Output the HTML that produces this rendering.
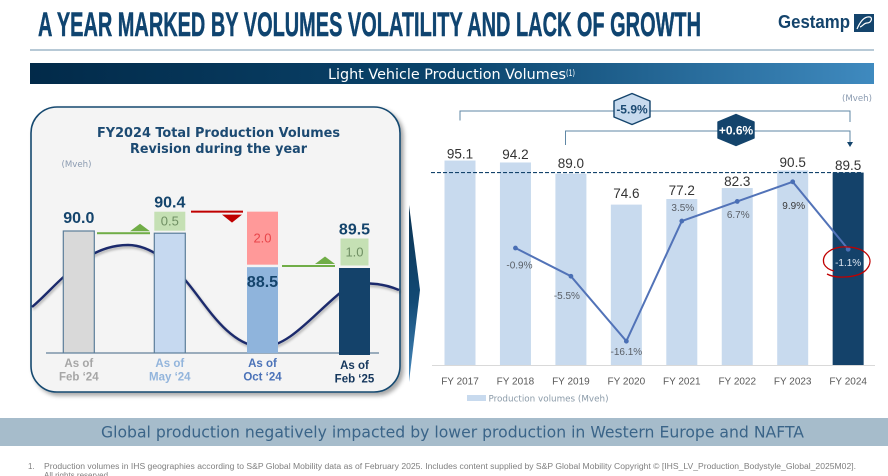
<!DOCTYPE html>
<html lang="en">
<head>
<meta charset="utf-8">
<title>A year marked by volumes volatility and lack of growth</title>
<style>
html,body{margin:0;padding:0;background:#fff;width:888px;height:476px;overflow:hidden}
svg{display:block;font-family:"Liberation Sans",sans-serif}
.wide{font-family:"DejaVu Sans","Liberation Sans",sans-serif}
</style>
</head>
<body>
<svg id="slide" xmlns="http://www.w3.org/2000/svg" width="888" height="476" viewBox="0 0 888 476">
  <defs>
    <linearGradient id="bannerGrad" x1="0" x2="1" y1="0" y2="0">
      <stop offset="0" stop-color="#022a49"/><stop offset="0.5" stop-color="#0a446c"/><stop offset="1" stop-color="#3f8abf"/>
    </linearGradient>
    <linearGradient id="arrowGrad" x1="0" x2="0" y1="0" y2="1">
      <stop offset="0" stop-color="#0b3352"/><stop offset="0.55" stop-color="#124a75"/><stop offset="1" stop-color="#4a8cc0"/>
    </linearGradient>
    <filter id="panelShadow" x="-5%" y="-5%" width="112%" height="112%">
      <feDropShadow dx="3" dy="3" stdDeviation="2" flood-color="#000" flood-opacity="0.35"/>
    </filter>
    <filter id="waveShadow" x="-5%" y="-10%" width="110%" height="125%">
      <feDropShadow dx="1" dy="2" stdDeviation="1.2" flood-color="#000" flood-opacity="0.3"/>
    </filter>
  </defs>

  <text x="38" y="36" font-size="34.5" font-weight="700" fill="#0f4470" stroke="#0f4470" stroke-width="0.5" textLength="663" lengthAdjust="spacingAndGlyphs">A YEAR MARKED BY VOLUMES VOLATILITY AND LACK OF GROWTH</text>
  <g>
    <text x="778" y="28" font-size="18" font-weight="700" fill="#14446c" textLength="72" lengthAdjust="spacingAndGlyphs">Gestamp</text>
    <rect x="854" y="14" width="20" height="18" fill="#14446c"/>
    <path d="M857 29 C860 22 864 16 870 17 C873 18 871 23 867 23 C864 23 863 26 860 27" fill="none" stroke="#fff" stroke-width="1.2"/>
  </g>
  <rect x="30" y="49.5" width="844" height="1" fill="#6f93ad"/>

  <rect x="30" y="63" width="844" height="21" fill="url(#bannerGrad)"/>
  <text class="wide" x="328" y="79" font-size="14" fill="#fff" textLength="238" lengthAdjust="spacingAndGlyphs">Light Vehicle Production Volumes</text>
  <text class="wide" x="566" y="76" font-size="8.5" fill="#fff" textLength="9" lengthAdjust="spacingAndGlyphs">(1)</text>

  <!-- Left panel -->
  <rect x="31" y="107" width="369" height="285" rx="26" ry="26" fill="#f4f4f4" stroke="#14486f" stroke-width="1.6" filter="url(#panelShadow)"/>
  <text class="wide" x="97" y="137" font-size="13.5" font-weight="700" fill="#1c4a72" textLength="243" lengthAdjust="spacingAndGlyphs">FY2024 Total Production Volumes</text>
  <text class="wide" x="130" y="153" font-size="13.5" font-weight="700" fill="#1c4a72" textLength="177" lengthAdjust="spacingAndGlyphs">Revision during the year</text>
  <text class="wide" x="61.5" y="167" font-size="8.5" fill="#8a9ab0" textLength="30" lengthAdjust="spacingAndGlyphs">(Mveh)</text>
  <path d="M32 307 C45 296 55 284 68 273 C85 256 105 245 128 245 C150 245 170 262 186 281 C205 303 228 346 262 347 C290 347 315 312 345 289 C358 281 380 282 399 290" fill="none" stroke="#1a2a6c" stroke-width="2.4" filter="url(#waveShadow)"/>
  <g id="revisionChart"></g>

  <polygon points="409,205 420,290 409,382" fill="url(#arrowGrad)"/>

  <!-- Right chart annotations -->
  <text class="wide" x="842" y="101" font-size="8.5" fill="#8a9ab0" textLength="30" lengthAdjust="spacingAndGlyphs">(Mveh)</text>
  <path d="M460 120.5 V111 H850 V122" fill="none" stroke="#5f87a5" stroke-width="1"/>
  <path d="M565.5 145 V131 H850 V142" fill="none" stroke="#5f87a5" stroke-width="1"/>
  <polygon points="847,142 853,142 850,147" fill="#14446c"/>
  <polygon points="614,101 632,93.5 650,101 650,117 632,124.5 614,117" fill="#c7daee" stroke="#14446c" stroke-width="1.4" stroke-linejoin="round"/>
  <text x="632" y="113.5" font-size="12" font-weight="700" fill="#1c4a72" text-anchor="middle">-5.9%</text>
  <polygon points="718,122 736,114.5 754,122 754,138 736,145.5 718,138" fill="#14446c" stroke="#14446c" stroke-width="1.4" stroke-linejoin="round"/>
  <text x="736" y="134.5" font-size="12" font-weight="700" fill="#fff" text-anchor="middle">+0.6%</text>

  <g id="volumesChart"></g>

  <path d="M827 274 C836 279 858 278 866 270 C876 259 866 248 848 247 C832 246 821 254 824 264 C826 268 830 270 834 271" fill="none" stroke="#c00000" stroke-width="1.3"/>

  <rect x="467" y="395" width="19" height="6" fill="#c8daee"/>
  <text class="wide" x="488.5" y="401.5" font-size="9" fill="#8a9aa8" textLength="120" lengthAdjust="spacingAndGlyphs">Production volumes (Mveh)</text>

  <!-- Footer -->
  <rect x="0" y="418" width="888" height="28" fill="#a6bccb"/>
  <text class="wide" x="101" y="437.5" font-size="16" fill="#3a6488" textLength="703" lengthAdjust="spacingAndGlyphs">Global production negatively impacted by lower production in Western Europe and NAFTA</text>
  <text x="28" y="469" font-size="8" fill="#7f7f7f">1.</text>
  <text x="44" y="469" font-size="8" fill="#7f7f7f" textLength="812" lengthAdjust="spacingAndGlyphs">Production volumes in IHS geographies according to S&amp;P Global Mobility data as of February 2025. Includes content supplied by S&amp;P Global Mobility Copyright © [IHS_LV_Production_Bodystyle_Global_2025M02].</text>
  <text x="44" y="478" font-size="8" fill="#7f7f7f">All rights reserved.</text>
</svg>

<script>
// ---- Volumes chart data ----
const years = ['FY 2017','FY 2018','FY 2019','FY 2020','FY 2021','FY 2022','FY 2023','FY 2024'];
const volumes = [95.1, 94.2, 89.0, 74.6, 77.2, 82.3, 90.5, 89.5];
const growth = [null, -0.9, -5.5, -16.1, 3.5, 6.7, 9.9, -1.1];
const growthLabels = ['', '-0.9%', '-5.5%', '-16.1%', '3.5%', '6.7%', '9.9%', '-1.1%'];
const referenceVolume = 89.5;

// ---- Revision chart data ----
const revisionDates = [['As of','Feb ‘24'],['As of','May ‘24'],['As of','Oct ‘24'],['As of','Feb ‘25']];
const revisionBase = [90.0, 89.9, 88.5, 88.5];
const revisionDelta = [0, 0.5, 2.0, 1.0];
const revisionTotals = [90.0, 90.4, null, 89.5];

const NS = 'http://www.w3.org/2000/svg';
function make(parent, tag, attrs, text) {
  const n = document.createElementNS(NS, tag);
  for (const k in attrs) n.setAttribute(k, attrs[k]);
  if (text !== undefined) n.textContent = text;
  parent.appendChild(n);
  return n;
}

// ---- Volumes chart ----
const vg = document.getElementById('volumesChart');
const baseY = 365;
const xBand = i => 460 + i * 55.45;
const yVol = v => baseY - v * 2.15;
const yGrowth = v => 242.5 - v * 6.13;
const barW = 31;
// layout nudges of the labels relative to their marks
const valueNudgeY = [2, 3.5, 5.5, 6.6, 4, 2, 3.5, 2.6];
const growthNudgeX = [0, 4, -4, 0, 1, 1, 1, 0];
const growthNudgeY = [0, 20.5, 23, 14, -10, 16.5, 27, 17];

years.forEach((y, i) => {
  const el = make(vg, 'rect', {x: xBand(i) - barW / 2, y: yVol(volumes[i]), width: barW, height: baseY - yVol(volumes[i]), fill: i === 7 ? '#14426a' : '#c8daee'});
  
  
});

const axis = make(vg, 'rect', {x: 432, y: 365, width: 443, height: 1, fill: '#d9d9d9'});



const refLine = make(vg, 'line', {x1: 431, x2: 862, y1: yVol(referenceVolume), y2: yVol(referenceVolume), stroke: '#14446c', 'stroke-width': 1.2, 'stroke-dasharray': '4 2'});



years.forEach((y, i) => {
  const el = make(vg, 'text', {x: xBand(i), y: yVol(volumes[i]) - valueNudgeY[i], 'font-size': 13.5, fill: '#333', 'text-anchor': 'middle'}, volumes[i].toFixed(1));
  
  
  const t = make(vg, 'text', {x: xBand(i), y: 384.5, 'font-size': 10, fill: '#595959', 'text-anchor': 'middle'}, y);
  
  
});

const pts = growth.map((g, i) => g === null ? null : [xBand(i), yGrowth(g)]).filter(Boolean);
const growthLine = make(vg, 'polyline', {points: pts.map(p => p.join(',')).join(' '), fill: 'none', stroke: '#5273b8', 'stroke-width': 2});



growth.forEach((g, i) => {
  if (g === null) return;
  const dot = make(vg, 'circle', {cx: xBand(i), cy: yGrowth(g), r: 2.4, fill: '#4a6fb5'});
  
  
  const lab = make(vg, 'text', {x: xBand(i) + growthNudgeX[i], y: yGrowth(g) + growthNudgeY[i], 'font-size': 10, fill: i === 7 ? '#dde7f2' : (i === 6 ? '#3a3a3a' : '#5a5f66'), 'text-anchor': 'middle'}, growthLabels[i]);
  
  
});

// ---- Revision chart (pictorial: each column has its own height factor) ----
const rg = document.getElementById('revisionChart');
const rBase = 353;
const rX = [78.8, 169.8, 262.5, 354.5];
const rFloor = 80;
const baseFactor = [12.2, 12.1, 10.1, 10];
const deltaFactor = [0, 38, 26.5, 27];
const deltaWidth = [0, 31, 31, 28];
const baseFill = ['#d9d9d9', '#c6d9f0', '#8fb4dc', '#14426a'];
const deltaFill = ['none', '#c5e0b4', '#ff9999', '#c5e0b4'];
const deltaText = ['none', '#6f8f63', '#e8454a', '#6f8f63'];
const dateFill = ['#a6a6a6', '#93b5dc', '#4a72b8', '#14365c'];
const dateShift = [0, 0, 0, 2];
const rTop = i => rBase - (revisionBase[i] - rFloor) * baseFactor[i];

const rAxis = make(rg, 'rect', {x: 46, y: 352.5, width: 333, height: 1, fill: '#3f6485'});



revisionBase.forEach((v, i) => {
  const top = rTop(i);
  const extra = i === 3 ? 2 : 0;
  const attrs = {x: rX[i] - 15.5, y: top, width: 31, height: rBase - top + extra, fill: baseFill[i]};
  if (i < 2) { attrs.stroke = '#5b7d99'; attrs['stroke-width'] = 1.2; }
  const bar = make(rg, 'rect', attrs);
  
  

  let labelAnchorTop = top;
  if (revisionDelta[i] > 0) {
    const h = revisionDelta[i] * deltaFactor[i];
    const boxBottom = top - 2.5;
    const box = make(rg, 'rect', {x: rX[i] - deltaWidth[i] / 2, y: boxBottom - h, width: deltaWidth[i], height: h, fill: deltaFill[i]});
    
    
    const dl = make(rg, 'text', {x: rX[i], y: boxBottom - h / 2 + 4.5, 'font-size': 13, fill: deltaText[i], 'text-anchor': 'middle'}, revisionDelta[i].toFixed(1));
    
    
    labelAnchorTop = boxBottom - h;
  }
  if (revisionTotals[i] !== null) {
    const tl = make(rg, 'text', {x: rX[i], y: labelAnchorTop - (i === 0 ? 8 : 4), 'font-size': 16, 'font-weight': 700, fill: '#14446c', 'text-anchor': 'middle'}, revisionTotals[i].toFixed(1));
    
    
  } else {
    const il = make(rg, 'text', {x: rX[i], y: top + 20, 'font-size': 16, 'font-weight': 700, fill: '#14446c', 'text-anchor': 'middle'}, revisionBase[i].toFixed(1));
    
    
  }
  revisionDates[i].forEach((line, k) => {
    const dt = make(rg, 'text', {x: rX[i], y: 367 + dateShift[i] + k * 13.7, 'font-size': 11.5, 'font-weight': 700, fill: dateFill[i], 'text-anchor': 'middle'}, line);
    
    
  });
});

// Change markers between columns, placed from the column tops
function changeMarker(x1, x2, y, up, color) {
  const g = make(rg, 'g', {});
  
  
  make(g, 'rect', {x: x1, y: y - 1, width: x2 - x1, height: 2, fill: color});
  const right = x2 - (up ? 0 : 1);
  const left = right - 20;
  const mid = (left + right) / 2;
  const p = up
    ? left + ',' + (y - 2) + ' ' + right + ',' + (y - 2) + ' ' + mid + ',' + (y - 9.5)
    : left + ',' + (y + 3) + ' ' + right + ',' + (y + 3) + ' ' + mid + ',' + (y + 11);
  make(g, 'polygon', {points: p, fill: color});
}
changeMarker(97, 150, rTop(1), true, '#70ad47');
changeMarker(191, 243, rTop(2) - 2.5 - revisionDelta[2] * deltaFactor[2], false, '#c00000');
changeMarker(282, 335, rTop(3) - 2, true, '#70ad47');
</script>
</body>
</html>
